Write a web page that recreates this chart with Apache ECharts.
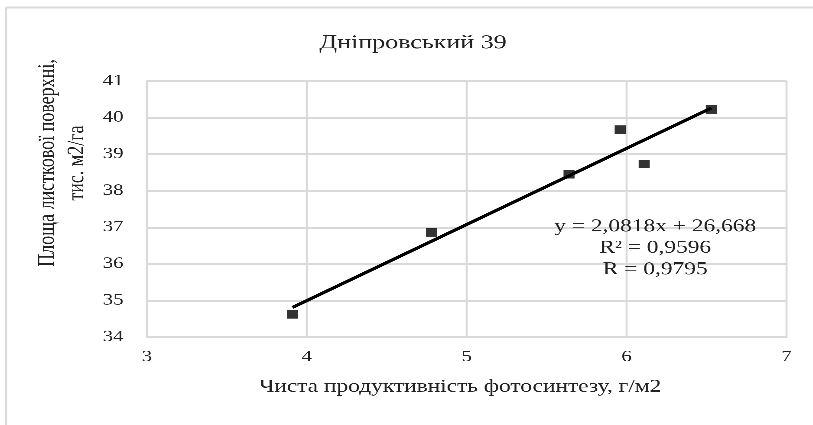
<!DOCTYPE html>
<html>
<head>
<meta charset="utf-8">
<script src="https://cdn.jsdelivr.net/npm/echarts@6/dist/echarts.min.js"></script>
<style>
  html, body { margin: 0; padding: 0; background: #fff; overflow: hidden; }
  /* the chart is laid out narrower and widened horizontally to fill the page */
  #chart { width: 625.4px; height: 425px; transform: scaleX(1.3); transform-origin: 0 0; }
</style>
</head>
<body>
<div id="chart"></div>
<script>
// Net photosynthetic productivity (g/m2) vs leaf surface area (thousand m2/ha)
const productivity = [3.91, 4.78, 5.64, 5.96, 6.11, 6.53];
const leafArea = [34.62, 36.86, 38.45, 39.67, 38.73, 40.22];

// linear trend stated on the chart
const slope = 2.0818;
const intercept = 26.668;
const equationLines = ['y = 2,0818x + 26,668', 'R² = 0,9596', 'R = 0,9795'];

const xTicks = { min: 3, max: 7, interval: 1 };
const yTicks = { min: 34, max: 41, interval: 1 };
const xTickLabels = ['3', '4', '5', '6', '7'];
const yTickLabels = ['34', '35', '36', '37', '38', '39', '40', '41'];

const titleText = 'Дніпровський 39';
const xName = 'Чиста продуктивність фотосинтезу, г/м2';
const yNameLines = ['Площа листкової поверхні,', 'тис. м2/га'];

const points = productivity.map((x, i) => [x, leafArea[i]]);
const xLo = Math.min(...productivity);
const xHi = Math.max(...productivity);
const trend = [[xLo, slope * xLo + intercept], [xHi, slope * xHi + intercept]];

const serif = 'Liberation Serif';
const textColor = '#222222';
const gridColor = '#d9d9d9';

const chart = echarts.init(document.getElementById('chart'), null, { renderer: 'canvas', devicePixelRatio: 3 });
chart.setOption({
  animation: false,
  backgroundColor: '#fff',
  grid: { left: 113, right: 20, top: 81, bottom: 88, containLabel: false },
  xAxis: {
    type: 'value',
    min: xTicks.min, max: xTicks.max, interval: xTicks.interval,
    axisLine: { show: true, lineStyle: { color: gridColor, width: 1.5 } },
    axisTick: { show: false },
    axisLabel: { show: false },
    splitLine: { show: true, lineStyle: { color: gridColor, width: 1.5 } }
  },
  yAxis: {
    type: 'value',
    min: yTicks.min, max: yTicks.max, interval: yTicks.interval,
    axisLine: { show: true, lineStyle: { color: gridColor, width: 1.5 } },
    axisTick: { show: false },
    axisLabel: { show: false },
    splitLine: { show: true, lineStyle: { color: gridColor, width: 1.5 } }
  },
  series: [
    {
      type: 'line',
      data: trend,
      symbol: 'none',
      lineStyle: { color: '#000', width: 3 },
      z: 2
    },
    {
      type: 'scatter',
      data: points,
      symbol: 'rect',
      symbolSize: 8.5,
      itemStyle: { color: '#000' },
      z: 3
    }
  ]
});

// text elements: frame, titles, tick labels placed through the axis scales, trend equation
const elements = [
  { type: 'line', shape: { x1: 4.6, y1: 7.5, x2: 626, y2: 7.5 }, style: { stroke: gridColor, lineWidth: 2 } },
  { type: 'line', shape: { x1: 4.6, y1: 7.5, x2: 4.6, y2: 425 }, style: { stroke: gridColor, lineWidth: 1.6 } },
  {
    type: 'text', x: 317.7, y: 43,
    style: { text: titleText, font: '20px ' + serif, fill: textColor, align: 'center', verticalAlign: 'middle' }
  },
  {
    type: 'text', x: 354, y: 387,
    style: { text: xName, font: '18px ' + serif, fill: textColor, align: 'center', verticalAlign: 'middle' }
  },
  {
    type: 'text', x: 48, y: 163, rotation: Math.PI / 2,
    style: {
      text: yNameLines.join('\n'), font: '18px ' + serif, fill: textColor,
      align: 'center', verticalAlign: 'middle', lineHeight: 22.5
    }
  },
  {
    type: 'text', x: 504, y: 248, z: 10,
    style: {
      text: equationLines.join('\n'), font: '18px ' + serif, fill: textColor,
      align: 'center', verticalAlign: 'middle', lineHeight: 21.5
    }
  }
];

yTickLabels.forEach(label => {
  const p = chart.convertToPixel({ gridIndex: 0 }, [xTicks.min, Number(label)]);
  elements.push({
    type: 'text', x: p[0] - 18, y: p[1],
    style: { text: label, font: '16px ' + serif, fill: textColor, align: 'right', verticalAlign: 'middle' }
  });
});
xTickLabels.forEach(label => {
  const p = chart.convertToPixel({ gridIndex: 0 }, [Number(label), yTicks.min]);
  elements.push({
    type: 'text', x: p[0], y: p[1] + 12,
    style: { text: label, font: '16px ' + serif, fill: textColor, align: 'center', verticalAlign: 'top' }
  });
});

chart.setOption({ graphic: elements });
</script>
</body>
</html>
